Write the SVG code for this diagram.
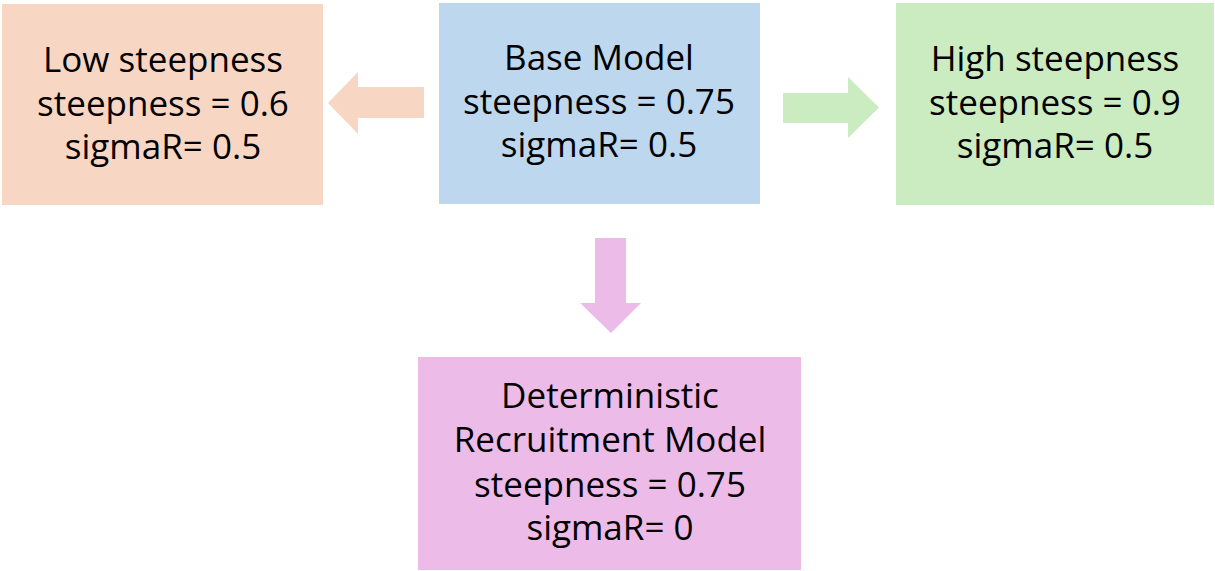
<svg xmlns="http://www.w3.org/2000/svg" width="1215" height="571" viewBox="0 0 1215 571">
  <style>
    text { font-family: "Open Sans", "Liberation Sans", sans-serif; font-size: 35px; fill: #000; text-anchor: middle; }
  </style>
  <rect x="0" y="0" width="1215" height="571" fill="#ffffff"/>
  <g id="connectors">
    <polygon id="arrow-low" points="424,87 358,87 358,72 328,103 358,134 358,118 424,118" fill="#F8D6C4"/>
    <polygon id="arrow-high" points="783,93 848,93 848,77 879,107.5 848,138 848,123 783,123" fill="#CBEBC0"/>
    <polygon id="arrow-det" points="595,238 626,238 626,303 641,303 611,333 580,303 595,303" fill="#EDBBE7"/>
  </g>
  <g id="node-low">
    <rect x="2" y="4" width="321" height="201" fill="#F8D6C4"/>
    <text x="163" y="72">Low steepness</text>
    <text x="163" y="116">steepness = 0.6</text>
    <text x="163" y="159">sigmaR= 0.5</text>
  </g>
  <g id="node-base">
    <rect x="439" y="3" width="321" height="201" fill="#BDD7EE"/>
    <text x="599" y="70">Base Model</text>
    <text x="599" y="114">steepness = 0.75</text>
    <text x="599" y="157">sigmaR= 0.5</text>
  </g>
  <g id="node-high">
    <rect x="896" y="3" width="318" height="202" fill="#CBEBC0"/>
    <text x="1055" y="71">High steepness</text>
    <text x="1055" y="115">steepness = 0.9</text>
    <text x="1055" y="158">sigmaR= 0.5</text>
  </g>
  <g id="node-det">
    <rect x="418" y="357" width="383" height="213" fill="#EDBBE7"/>
    <text x="610" y="408">Deterministic</text>
    <text x="610" y="452">Recruitment Model</text>
    <text x="610" y="497">steepness = 0.75</text>
    <text x="610" y="540">sigmaR= 0</text>
  </g>
</svg>
